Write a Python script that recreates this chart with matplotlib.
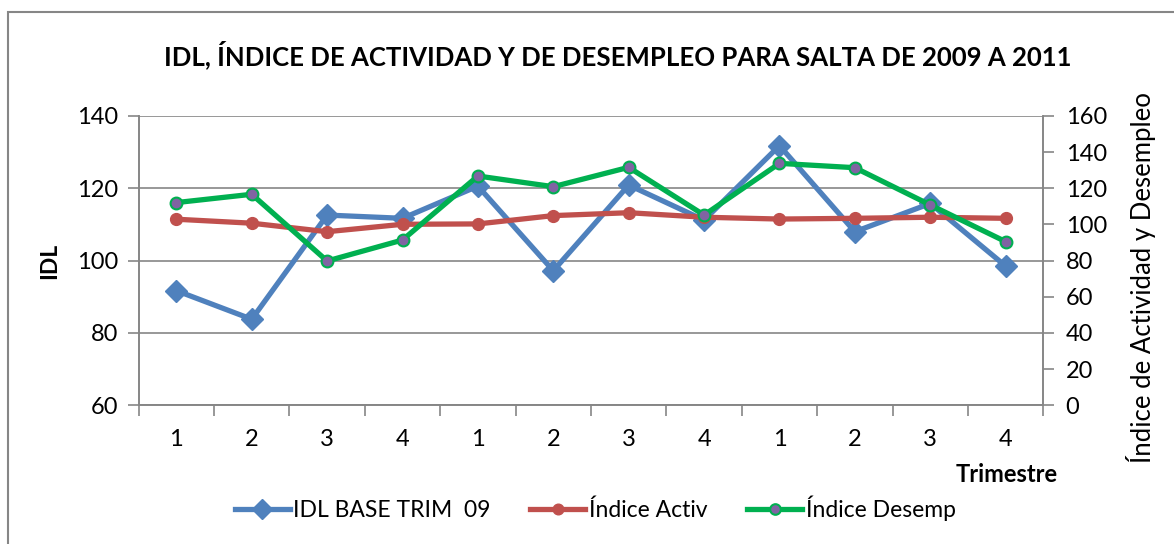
import matplotlib.pyplot as plt
from matplotlib.patches import Rectangle

trimestres = ["1", "2", "3", "4", "1", "2", "3", "4", "1", "2", "3", "4"]
idl = [91.7, 83.8, 112.6, 111.7, 120.6, 97.2, 120.9, 111.2, 131.8, 108.0, 115.8, 98.5]
indice_activ = [102.9, 100.7, 96.0, 100.1, 100.3, 104.9, 106.5, 104.0, 103.0, 103.4, 104.0, 103.4]
indice_desemp = [112.1, 116.7, 79.8, 91.4, 126.8, 120.9, 131.6, 105.2, 133.8, 131.4, 110.8, 90.5]

FONT = ["Lato", "DejaVu Sans"]
plt.rcParams["font.family"] = FONT
GRID = "#868686"
TICK_FS = 17

fig = plt.figure(figsize=(11.74, 5.44), dpi=100)
ax = fig.add_axes([0.1181, 0.255, 0.7706, 0.5318])
ax2 = ax.twinx()

x = list(range(len(trimestres)))
l1, = ax.plot(x, idl, color="#4F81BD", lw=3.8, marker="D", ms=11.5,
              label="IDL BASE TRIM  09", zorder=3)
l2, = ax2.plot(x, indice_activ, color="#C0504D", lw=3.8, marker="o", ms=8.5,
               label="Índice Activ", zorder=3)
l3, = ax2.plot(x, indice_desemp, color="#00B050", lw=3.8, marker="o", ms=8.5,
               mfc="#8064A2", mec="#00B050", mew=1.5, label="Índice Desemp", zorder=4)

ax.set_xlim(-0.5, 11.5)
ax.set_ylim(60, 140)
ax.set_yticks(range(60, 141, 20))
ax2.set_ylim(0, 160)
ax2.set_yticks(range(0, 161, 20))

ax.set_xticks(x)
ax.set_xticklabels(trimestres)
ax.set_xticks([i - 0.5 for i in range(13)], minor=True)
ax.tick_params(axis="x", which="major", length=0, pad=17, labelsize=TICK_FS)
ax.tick_params(axis="x", which="minor", length=8, width=1.2, color=GRID)
ax.tick_params(axis="y", length=8, width=1.2, color=GRID, labelsize=TICK_FS, pad=7)
ax2.tick_params(axis="y", length=8, width=1.2, color=GRID, labelsize=TICK_FS, pad=8)

ax.grid(axis="y", color=GRID, lw=1.2)
ax.set_axisbelow(True)
for a in (ax, ax2):
    a.spines["top"].set_visible(False)
    for s in ("left", "right", "bottom"):
        a.spines[s].set_color(GRID)
        a.spines[s].set_linewidth(1.2)

ax.set_ylabel("IDL", fontsize=16.5, fontweight="bold", labelpad=12)
ax2.set_ylabel("Índice de Actividad y Desempleo", fontsize=18.5, va="center")
ax2.yaxis.set_label_coords(1.108, 0.44)

fig.text(0.9012, 0.127, "Trimestre", ha="right", va="center",
         fontsize=17, fontweight="bold")
fig.text(0.526, 0.899, "IDL, ÍNDICE DE ACTIVIDAD Y DE DESEMPLEO PARA SALTA DE 2009 A 2011",
         ha="center", va="center", fontsize=18.5, fontweight="bold")

fig.legend(handles=[l1, l2, l3], loc="center", bbox_to_anchor=(0.507, 0.066),
           ncol=3, frameon=False, fontsize=16.5, handlelength=2.4,
           handletextpad=0.15, columnspacing=1.75, markerscale=0.9, numpoints=1)

fig.patches.append(Rectangle((8, -20), 1300, 552, transform=None, fill=False,
                             edgecolor=GRID, lw=1.5))

fig.savefig("out.png", dpi=100)
